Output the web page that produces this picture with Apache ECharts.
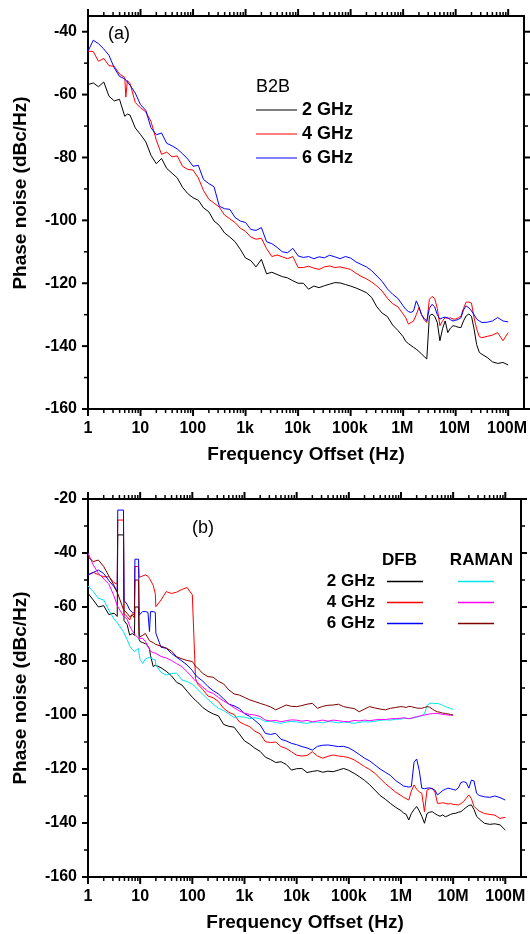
<!DOCTYPE html>
<html><head><meta charset="utf-8">
<script src="https://cdn.jsdelivr.net/npm/echarts@6/dist/echarts.min.js"></script>
<style>html,body{margin:0;padding:0;background:#fff}#c{width:530px;height:934px}</style>
</head><body><div id="c"></div>
<script>
// ---------- ticks and tick labels ----------
const xTickLabels = ['1','10','100','1k','10k','100k','1M','10M','100M'];
const xDecadeTicks = [1,10,100,1e3,1e4,1e5,1e6,1e7,1e8];
const xMinorMantissa = [2,3,4,5,6,7,8,9];
const yTickMinTop = -160, yTickMaxTop = -40, yAxisMaxTop = -35;
const yTickMinBottom = -160, yTickMaxBottom = -20, yAxisMaxBottom = -20;
const yTickStep = 20;

// ---------- panel (a): B2B ----------
const topFreq = [1,1.26,1.58,2,2.51,3.16,3.98,5.01,5.25,5.62,6.31,7.94,
 10,12.6,15.8,20,25.1,31.6,39.8,50.1,63.1,79.4,
 100,126,158,200,251,316,398,501,631,794,
 1e3,1.26e3,1.58e3,2e3,2.51e3,3.16e3,3.98e3,5.01e3,6.31e3,7.94e3,
 1e4,1.26e4,1.58e4,2e4,2.51e4,3.16e4,3.98e4,5.01e4,6.31e4,7.94e4,
 1e5,1.26e5,1.58e5,2e5,2.51e5,3.16e5,3.98e5,5.01e5,6.31e5,7.94e5,
 1e6,1.12e6,1.26e6,1.41e6,1.58e6,1.78e6,2e6,2.24e6,2.51e6,2.82e6,3.16e6,3.55e6,3.98e6,4.47e6,5.01e6,5.62e6,6.31e6,7.08e6,7.94e6,8.91e6,
 1e7,1.12e7,1.26e7,1.41e7,1.58e7,1.78e7,2e7,2.24e7,2.51e7,2.82e7,3.16e7,
 3.98e7,5.01e7,6.31e7,7.94e7,1e8];
const b2b2GHz = [-56.8,-56.3,-57.5,-56.0,-60.5,-62.0,-61.5,-66.9,-66.5,-66.2,-66.5,-70.6,
 -72.7,-75.0,-79.3,-82.0,-80.3,-83.5,-85.0,-86.5,-89.5,-91.5,
 -92.8,-93.6,-96.0,-97.3,-100.2,-101.6,-104.0,-105.3,-106.8,-109.2,
 -112.0,-112.8,-114.8,-112.4,-117.0,-116.5,-117.2,-117.9,-118.3,-119.2,
 -120.0,-120.0,-121.9,-120.9,-121.4,-120.8,-120.3,-119.8,-119.9,-120.4,
 -120.9,-121.5,-122.2,-123.0,-124.5,-127.5,-129.5,-130.6,-133.3,-135.0,
 -137.0,-138.5,-139.2,-139.8,-140.4,-141.0,-141.7,-142.5,-143.3,-144.1,-130.4,-129.8,-130.5,-132.5,-138.3,-134.5,-132.0,-135.7,-134.3,-133.5,
 -133.7,-134.0,-134.1,-132.0,-130.4,-129.8,-130.5,-134.5,-139.5,-142.0,-142.6,
 -143.6,-145.0,-145.5,-145.2,-146.0];
const b2b4GHz = [-46.2,-46.3,-49.4,-48.5,-50.8,-51.0,-53.5,-54.5,-60.8,-55.5,-56.5,-62.5,
 -64.2,-65.5,-68.5,-74.5,-79.0,-78.3,-79.8,-79.5,-82.8,-83.8,
 -84.0,-86.5,-90.5,-93.3,-94.5,-95.8,-98.3,-99.5,-100.7,-102.5,
 -103.5,-105.3,-106.0,-105.7,-109.0,-111.5,-111.0,-111.6,-112.2,-111.5,
 -115.0,-115.0,-114.6,-115.2,-115.6,-114.8,-114.5,-115.0,-114.8,-115.2,
 -115.6,-116.8,-117.8,-118.6,-119.6,-120.9,-122.5,-124.8,-126.5,-127.5,
 -129.8,-131.0,-133.0,-132.5,-132.0,-130.0,-127.7,-130.0,-131.6,-132.5,-125.1,-124.2,-124.8,-128.0,-133.5,-132.0,-130.9,-131.2,-131.0,-131.4,
 -131.4,-131.0,-130.5,-128.0,-126.0,-126.0,-126.3,-131.0,-134.5,-137.0,-137.3,
 -136.9,-136.5,-135.7,-138.3,-135.7];
const b2b6GHz = [-46.2,-42.7,-43.8,-45.5,-47.5,-51.5,-54.2,-55.0,-55.4,-56.0,-57.0,-59.5,
 -63.2,-65.0,-70.5,-72.8,-72.2,-75.5,-76.3,-77.3,-78.8,-80.5,
 -82.8,-82.5,-87.0,-88.3,-89.3,-95.5,-96.3,-96.5,-99.1,-100.2,
 -100.7,-102.9,-103.2,-102.3,-106.8,-107.4,-108.6,-110.0,-110.3,-108.9,
 -111.3,-111.8,-111.5,-112.2,-111.6,-111.9,-111.1,-111.6,-112.2,-111.5,
 -112.0,-113.2,-114.0,-114.8,-116.0,-117.7,-119.4,-121.8,-123.5,-124.8,
 -127.2,-128.3,-129.0,-129.3,-128.8,-125.6,-127.5,-130.0,-131.2,-132.0,-128.0,-126.7,-127.5,-130.0,-131.4,-131.0,-130.8,-131.0,-131.6,-132.0,
 -131.8,-131.5,-131.0,-128.5,-127.2,-127.8,-128.8,-130.0,-131.4,-132.0,-132.5,
 -132.4,-132.0,-130.9,-132.0,-132.3];

// ---------- panel (b): DFB vs RAMAN ----------
const botFreq = [1,1.26,1.58,2,2.51,3.16,3.63,3.72,4.79,4.9,5.62,6.31,7.08,7.76,7.94,9.33,9.55,
 10,11.2,12.6,14.1,15.1,15.8,17.8,19.5,20,25.1,31.6,39.8,50.1,63.1,79.4,
 100,107,115,126,158,200,251,316,398,501,631,794,
 1e3,1.26e3,1.58e3,2e3,2.51e3,3.16e3,3.98e3,5.01e3,6.31e3,7.94e3,
 1e4,1.26e4,1.58e4,2e4,2.51e4,3.16e4,3.98e4,5.01e4,6.31e4,7.94e4,
 1e5,1.26e5,1.58e5,2e5,2.51e5,3.16e5,3.98e5,5.01e5,6.31e5,7.94e5,
 1e6,1.12e6,1.26e6,1.41e6,1.58e6,1.78e6,2e6,2.24e6,2.51e6,2.82e6,3.16e6,3.55e6,3.98e6,4.47e6,5.01e6,5.62e6,6.31e6,7.08e6,7.94e6,8.91e6,
 1e7,1.12e7,1.26e7,1.41e7,1.58e7,1.78e7,2e7,2.24e7,2.51e7,2.82e7,3.16e7,
 3.98e7,5.01e7,6.31e7,7.94e7,1e8];
const dfb2GHz = [-54.9,-57.4,-60.0,-59.5,-62.8,-62.3,-63.5,-33.3,-33.3,-65.0,-66.5,-70.4,-69.8,-70.5,-60.0,-60.0,-72.0,
 -72.8,-73.2,-73.6,-74.5,-75.5,-78.0,-82.1,-81.5,-81.4,-82.5,-83.8,-85.5,-87.9,-88.9,-91.2,
 -93.4,-94.0,-94.6,-95.2,-97.2,-98.6,-99.6,-100.3,-103.5,-104.2,-104.5,-107.0,
 -109.6,-110.8,-112.3,-113.5,-115.6,-116.5,-117.6,-117.3,-118.3,-120.4,
 -119.9,-119.8,-121.3,-120.9,-120.6,-121.2,-120.8,-121.0,-120.4,-119.8,
 -120.5,-121.6,-122.8,-124.2,-125.8,-127.8,-129.8,-131.2,-132.8,-134.2,
 -135.4,-136.3,-136.8,-138.9,-136.5,-135.0,-133.9,-135.5,-137.5,-140.1,-136.5,-136.0,-135.8,-136.5,-137.1,-137.5,-137.0,-137.7,-137.3,-136.8,
 -136.5,-136.4,-136.0,-135.8,-135.0,-134.2,-133.5,-133.3,-135.0,-137.5,-138.5,
 -140.1,-140.5,-140.3,-140.7,-142.6];
const dfb4GHz = [-48.1,-47.2,-48.0,-48.8,-48.8,-51.0,-51.5,-27.8,-27.8,-62.5,-63.5,-64.8,-62.5,-63.0,-45.0,-45.0,-49.0,
 -48.8,-48.5,-48.1,-48.6,-49.4,-49.0,-52.0,-55.0,-59.9,-57.4,-54.3,-55.0,-54.5,-53.5,-52.8,
 -55.5,-56.2,-86.5,-88.5,-90.5,-93.0,-93.6,-95.0,-97.5,-99.0,-99.8,-102.5,
 -103.5,-104.3,-106.0,-107.0,-109.9,-110.2,-110.0,-111.7,-112.4,-113.6,
 -114.9,-115.2,-115.0,-113.6,-115.2,-116.0,-115.3,-114.8,-115.2,-115.4,
 -115.8,-116.6,-117.8,-119.1,-120.2,-121.6,-123.5,-125.4,-127.0,-128.6,
 -129.8,-130.5,-131.0,-131.5,-128.2,-125.9,-127.5,-128.5,-129.0,-135.8,-127.8,-127.3,-127.1,-128.5,-132.7,-132.7,-132.5,-132.7,-133.0,-132.8,
 -133.1,-133.2,-133.3,-132.8,-132.1,-130.8,-129.6,-131.0,-133.8,-134.8,-135.6,
 -136.5,-136.8,-137.1,-138.3,-137.9];
const dfb6GHz = [-48.1,-47.2,-46.3,-47.6,-50.2,-52.5,-54.5,-24.1,-24.1,-57.5,-59.0,-61.1,-62.0,-62.3,-42.3,-42.3,-63.0,
 -63.0,-61.7,-61.7,-62.0,-69.1,-61.7,-61.7,-62.0,-69.7,-74.9,-75.3,-77.2,-78.6,-80.0,-81.5,
 -83.5,-84.4,-85.0,-86.0,-87.4,-89.5,-91.0,-92.2,-94.0,-96.0,-96.6,-97.6,
 -99.5,-100.5,-102.0,-103.7,-106.8,-107.2,-106.8,-109.0,-109.6,-110.5,
 -111.0,-111.7,-112.2,-113.0,-111.6,-111.2,-111.1,-111.4,-111.7,-111.6,
 -112.2,-113.3,-114.6,-116.0,-117.0,-118.5,-120.0,-121.2,-122.4,-124.3,
 -125.6,-126.3,-126.5,-126.7,-126.5,-117.5,-116.3,-120.5,-127.1,-127.3,-127.1,-127.0,-127.4,-127.8,-129.6,-128.8,-128.0,-127.5,-127.1,-127.3,
 -127.6,-127.8,-127.0,-125.0,-124.7,-125.0,-127.1,-124.1,-124.4,-129.0,-129.8,
 -130.3,-130.5,-130.0,-130.6,-131.5];
const raman2GHz = [-52.2,-54.3,-56.8,-57.4,-61.1,-64.5,-65.8,-66.0,-69.2,-69.8,-72.0,-74.5,-75.8,-76.5,-76.6,-75.3,-77.5,
 -79.5,-80.9,-79.3,-78.8,-78.2,-78.8,-79.4,-79.6,-81.5,-84.2,-85.2,-84.6,-84.5,-87.0,-87.6,
 -88.6,-89.2,-89.6,-90.5,-92.3,-94.2,-96.0,-97.5,-98.4,-99.6,-100.9,-100.6,
 -100.8,-101.3,-101.0,-101.4,-102.5,-102.3,-102.8,-103.1,-102.6,-102.4,
 -102.5,-102.9,-103.1,-102.7,-102.6,-102.9,-102.4,-102.6,-102.9,-102.6,
 -102.8,-103.1,-102.7,-102.5,-102.6,-102.3,-102.0,-101.8,-101.9,-101.6,
 -101.5,-101.3,-101.2,-101.4,-101.2,-101.0,-100.8,-100.6,-100.2,-99.6,-96.5,-95.7,-95.6,-95.8,-95.7,-96.0,-96.4,-96.9,-97.2,-97.6,
 -97.9,null,null,null,null,null,null,null,null,null,null,
 null,null,null,null,null];
const raman4GHz = [-40.1,-44.4,-47.5,-49.6,-51.5,-56.0,-59.5,-60.0,-63.4,-63.6,-64.5,-67.0,-68.8,-70.0,-70.4,-71.6,-71.5,
 -71.6,-71.6,-72.8,-74.5,-75.6,-76.4,-76.9,-77.1,-77.2,-78.3,-78.9,-79.8,-81.0,-82.1,-84.0,
 -86.0,-86.8,-87.3,-88.0,-89.6,-91.3,-92.0,-93.5,-94.8,-96.0,-97.3,-98.5,
 -99.3,-99.8,-100.0,-100.6,-101.9,-102.2,-102.0,-102.5,-102.1,-101.8,
 -101.9,-102.3,-102.0,-102.5,-102.2,-101.9,-102.3,-101.9,-102.1,-102.4,
 -102.5,-102.0,-102.2,-101.9,-102.1,-101.8,-101.6,-101.7,-101.4,-101.3,
 -101.2,-101.0,-101.2,-101.3,-101.2,-100.9,-100.6,-100.4,-100.2,-100.0,-99.8,-99.6,-99.5,-99.4,-99.4,-99.6,-99.8,-99.9,-100.0,-100.1,
 -100.0,null,null,null,null,null,null,null,null,null,null,
 null,null,null,null,null];
const raman6GHz = [-41.4,-43.2,-42.6,-45.0,-48.5,-52.0,-54.5,-55.0,-61.0,-61.5,-62.3,-63.6,-63.0,-64.0,-50.0,-50.0,-70.0,
 -71.0,-70.5,-69.8,-71.5,-72.5,-72.8,-73.2,-73.8,-74.0,-74.5,-75.2,-76.3,-78.4,-79.2,-79.8,
 -80.2,-81.0,-82.0,-82.5,-84.6,-85.8,-86.0,-87.5,-88.5,-90.7,-92.2,-92.6,
 -93.5,-94.4,-95.0,-95.7,-96.3,-97.0,-98.1,-97.2,-96.3,-96.8,
 -96.9,-96.5,-96.0,-95.7,-97.5,-96.8,-96.4,-96.3,-96.0,-96.9,
 -97.3,-97.6,-98.8,-97.8,-96.9,-97.4,-97.8,-98.1,-97.5,-97.2,
 -96.9,-97.0,-97.2,-96.8,-96.9,-97.2,-97.4,-97.5,-97.5,-97.2,-96.9,-97.1,-97.8,-98.4,-98.8,-99.0,-99.3,-99.4,-99.6,-99.8,
 -100.0,null,null,null,null,null,null,null,null,null,null,
 null,null,null,null,null];

// ---------- build ----------
const W = 530, H = 934;
const FONT = '"Liberation Sans", Arial, Helvetica, sans-serif';
const X_MIN = 1, X_MAX = 2e8, X_TICK_MAX = 1e8;
const BLACK = '#000';

function pairs(freq, vals) {
  const out = [];
  freq.forEach((f, i) => { if (vals[i] !== null) out.push([f, vals[i]]); });
  return out;
}
const off = () => ({show: false});
const frameLine = () => ({show: true, lineStyle: {color: BLACK, width: 2}});
const noLine = () => ({show: false});
const labelStyle = () => ({color: BLACK, fontSize: 16, fontWeight: 'bold', fontFamily: FONT});

const grids = [], xAxes = [], yAxes = [], tickEls = [];

function seg(x1, y1, x2, y2, w) {
  tickEls.push({type: 'line', silent: true, z: 100, shape: {x1, y1, x2, y2}, style: {stroke: BLACK, lineWidth: w}});
}

function addPanel(g) {
  const res = {};
  const width = g.right - g.left, height = g.bottom - g.top;
  // 1) series grid with frame lines
  const gs = grids.length;
  grids.push({left: g.left, top: g.top, width, height});
  res.x = xAxes.length; res.y = yAxes.length;
  ['bottom', 'top'].forEach(pos => xAxes.push({type: 'log', gridIndex: gs, position: pos, min: X_MIN, max: X_MAX, logBase: 10,
    axisLine: frameLine(), axisTick: off(), minorTick: off(), axisLabel: off(), splitLine: off()}));
  ['left', 'right'].forEach(pos => yAxes.push({type: 'value', gridIndex: gs, position: pos, min: -160, max: g.yMax,
    axisLine: frameLine(), axisTick: off(), minorTick: off(), axisLabel: off(), splitLine: off()}));
  // 2) x label grid: 1 .. 100M
  const gx = grids.length;
  const xw = width * Math.log10(X_TICK_MAX / X_MIN) / Math.log10(X_MAX / X_MIN);
  grids.push({left: g.left, top: g.top, width: xw, height});
  xAxes.push({type: 'log', gridIndex: gx, position: 'bottom', min: X_MIN, max: X_TICK_MAX, logBase: 10,
    axisLine: noLine(), splitLine: off(), axisTick: off(), minorTick: off(),
    axisLabel: Object.assign({show: true, margin: 12,
      formatter: v => { const k = Math.round(Math.log10(v)); return xTickLabels[k] || ''; }}, labelStyle())});
  yAxes.push({type: 'value', gridIndex: gx, min: 0, max: 1, show: false});
  // 3) y label grid over the labelled range
  const gy = grids.length;
  const pxPerUnit = height / (g.yMax + 160);
  const ty = g.top + (g.yMax - g.tickMax) * pxPerUnit;
  grids.push({left: g.left, top: ty, width, height: g.bottom - ty});
  xAxes.push({type: 'value', gridIndex: gy, min: 0, max: 1, show: false});
  yAxes.push({type: 'value', gridIndex: gy, position: 'left', min: g.tickMin, max: g.tickMax, interval: yTickStep,
    axisLine: noLine(), splitLine: off(), axisTick: off(), minorTick: off(),
    axisLabel: Object.assign({show: true, margin: 11}, labelStyle())});
  // 4) tick marks along the frame (same log / linear mapping as the grid axes)
  try {
    const px = v => g.left + width * Math.log10(v / X_MIN) / Math.log10(X_MAX / X_MIN);
    const py = v => g.bottom - height * (v + 160) / (g.yMax + 160);
    const B = g.bottom, T = g.top, L = g.left, R = g.right;
    xDecadeTicks.forEach(d => { const x = px(d); seg(x, B, x, B + 7, 2); seg(x, T, x, T - 7, 2); });
    xDecadeTicks.slice(0, -1).forEach(d => xMinorMantissa.forEach(m => {
      const x = px(m * d); seg(x, B, x, B + 4, 1.5); seg(x, T, x, T - 4, 1.5);
    }));
    for (let v = g.tickMin; v <= g.tickMax; v += yTickStep) {
      const y = py(v); seg(L - 6, y, L, y, 2); seg(R, y, R + 6, y, 2);
    }
    for (let v = g.tickMin + yTickStep / 2; v < g.tickMax; v += yTickStep) {
      const y = py(v); seg(L - 4, y, L, y, 1.5); seg(R, y, R + 4, y, 1.5);
    }
  } catch (e) { /* ticks are decoration only */ }
  return res;
}

const pA = addPanel({left: 88, right: 524, top: 16, bottom: 409, yMax: yAxisMaxTop, tickMin: yTickMinTop, tickMax: yTickMaxTop});
const pB = addPanel({left: 88, right: 521, top: 499, bottom: 877, yMax: yAxisMaxBottom, tickMin: yTickMinBottom, tickMax: yTickMaxBottom});

function line(name, p, freq, vals, color) {
  return {name, type: 'line', xAxisIndex: p.x, yAxisIndex: p.y, data: pairs(freq, vals),
    symbol: 'none', showSymbol: false, color, lineStyle: {color, width: 1}, itemStyle: {color},
    animation: false, clip: true, connectNulls: false, z: 2};
}
function txt(text, x, y, font, align, rot) {
  return {type: 'text', x, y, rotation: rot || 0, silent: true,
    style: {text, font, fill: BLACK, align: align || 'center', verticalAlign: 'middle',
            textAlign: align || 'center', textVerticalAlign: 'middle'}};
}
const legendText = (sz, extra) => Object.assign({color: BLACK, fontSize: sz, fontWeight: 'bold', fontFamily: FONT, lineHeight: sz + 2}, extra || {});

const texts = [
  txt('(a)', 108, 34, '18px ' + FONT, 'left'),
  txt('B2B', 256, 87, '18px ' + FONT, 'left'),
  txt('(b)', 192, 528, '18px ' + FONT, 'left'),
  txt('DFB', 399.5, 560, 'bold 17px ' + FONT, 'center'),
  txt('RAMAN', 481.5, 560, 'bold 17px ' + FONT, 'center'),
  txt('Phase noise (dBc/Hz)', 21, 193, 'bold 19px ' + FONT, 'center', Math.PI / 2),
  txt('Phase noise (dBc/Hz)', 21, 688, 'bold 19px ' + FONT, 'center', Math.PI / 2),
  txt('Frequency Offset (Hz)', 306, 455, 'bold 19px ' + FONT, 'center'),
  txt('Frequency Offset (Hz)', 305, 923, 'bold 19px ' + FONT, 'center')
];

const option = {
  backgroundColor: '#fff',
  animation: false,
  grid: grids,
  xAxis: xAxes,
  yAxis: yAxes,
  legend: [
    {data: ['2 GHz', '4 GHz', '6 GHz'], orient: 'vertical', left: 256, top: 100, padding: 0,
     icon: 'rect', itemWidth: 41, itemHeight: 1.2, itemGap: 4, selectedMode: false, textStyle: legendText(18, {lineHeight: 20})},
    {data: ['DFB 2 GHz', 'DFB 4 GHz', 'DFB 6 GHz'], orient: 'vertical', right: 107, top: 572, padding: 0,
     align: 'right', icon: 'rect', itemWidth: 36, itemHeight: 1.5, itemGap: 2, selectedMode: false,
     textStyle: legendText(17, {lineHeight: 19, padding: [0, 7, 0, 0]}),
     formatter: n => n.replace('DFB ', '')},
    {data: ['RAMAN 2 GHz', 'RAMAN 4 GHz', 'RAMAN 6 GHz'], orient: 'vertical', left: 458, top: 572, padding: 0,
     icon: 'rect', itemWidth: 36, itemHeight: 1.5, itemGap: 2, selectedMode: false,
     textStyle: legendText(17, {lineHeight: 19}), formatter: () => ' '}
  ],
  graphic: {elements: texts.concat(tickEls)},
  series: [
    line('2 GHz', pA, topFreq, b2b2GHz, '#000000'),
    line('4 GHz', pA, topFreq, b2b4GHz, '#ff0000'),
    line('6 GHz', pA, topFreq, b2b6GHz, '#0000ff'),
    line('DFB 2 GHz', pB, botFreq, dfb2GHz, '#000000'),
    line('DFB 4 GHz', pB, botFreq, dfb4GHz, '#ff0000'),
    line('DFB 6 GHz', pB, botFreq, dfb6GHz, '#0000ff'),
    line('RAMAN 2 GHz', pB, botFreq, raman2GHz, '#00e5ee'),
    line('RAMAN 4 GHz', pB, botFreq, raman4GHz, '#ff00ff'),
    line('RAMAN 6 GHz', pB, botFreq, raman6GHz, '#800000')
  ]
};
const chart = echarts.init(document.getElementById('c'), null, {renderer: 'canvas', width: W, height: H});
chart.setOption(option);
</script></body></html>
